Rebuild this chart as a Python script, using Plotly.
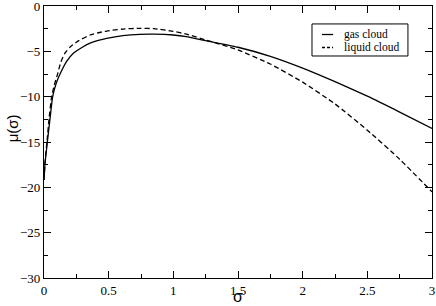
import plotly.graph_objects as go

sigma_gas = [0, 0.008, 0.026, 0.046, 0.067, 0.095, 0.124, 0.175, 0.227, 0.29, 0.356, 0.42, 0.485,
             0.61, 0.74, 0.85, 1.0, 1.1, 1.25, 1.3, 1.5, 1.75, 2.0, 2.25, 2.5, 2.75, 3.0]
mu_gas = [-19.2, -17.4, -15.0, -12.5, -10.0, -8.5, -7.5, -6.1, -5.2, -4.6, -4.1, -3.8, -3.57,
          -3.27, -3.12, -3.1, -3.2, -3.38, -3.82, -3.96, -4.55, -5.55, -6.85, -8.35, -9.95, -11.7, -13.5]

sigma_liq = [0, 0.008, 0.024, 0.04, 0.059, 0.08, 0.103, 0.13, 0.162, 0.2, 0.26, 0.356, 0.42, 0.485,
             0.61, 0.74, 0.85, 1.0, 1.1, 1.25, 1.3, 1.5, 1.75, 2.0, 2.25, 2.5, 2.75, 3.0]
mu_liq = [-19.2, -17.2, -14.8, -12.3, -10.0, -8.7, -7.6, -6.2, -5.2, -4.55, -3.9, -3.2, -2.95, -2.76,
          -2.54, -2.46, -2.5, -2.8, -3.1, -3.75, -3.95, -4.85, -6.4, -8.4, -10.8, -13.7, -16.9, -20.5]

series_names = ["gas cloud", "liquid cloud"]
series_dash = ["solid", "5px,3px"]

fig = go.Figure()
fig.add_trace(go.Scatter(x=sigma_gas, y=mu_gas, mode="lines", name=series_names[0], showlegend=False,
                         line=dict(color="black", width=1.3, dash=series_dash[0], shape="spline", smoothing=0.5)))
fig.add_trace(go.Scatter(x=sigma_liq, y=mu_liq, mode="lines", name=series_names[1], showlegend=False,
                         line=dict(color="black", width=1.3, dash=series_dash[1], shape="spline", smoothing=0.5)))

axis_common = dict(showgrid=False, zeroline=False, showline=True, linecolor="black", linewidth=1.2,
                   mirror="allticks", ticks="inside", ticklen=7, tickcolor="black", automargin=False,
                   ticklabeloverflow="allow",
                   tickfont=dict(family="Liberation Serif", size=13, color="black"))

fig.update_xaxes(range=[0, 3], dtick=0.5, tick0=0,
                 minor=dict(ticks="inside", ticklen=4, dtick=0.25, tickcolor="black"),
                 **axis_common)
fig.update_yaxes(range=[-30, 0], dtick=5, tick0=0,
                 minor=dict(ticks="inside", ticklen=4, dtick=2.5, tickcolor="black"),
                 **axis_common)

# axis titles
fig.add_annotation(text="σ", xref="paper", yref="paper", x=0.5, y=-0.0331, xanchor="center", yanchor="top",
                   borderpad=0, showarrow=False, font=dict(family="Liberation Sans", size=16, color="black"))
fig.add_annotation(text="μ(σ)", xref="paper", yref="paper", x=-0.082, y=0.551, xanchor="center", yanchor="middle",
                   textangle=-90, showarrow=False, font=dict(family="Liberation Sans", size=15, color="black"))

# legend box (custom, compact like the reference)
fig.add_shape(type="rect", xref="paper", yref="paper", x0=0.6907, x1=0.938, y0=0.8162, y1=0.934,
              line=dict(color="black", width=1), fillcolor="white", layer="above")
leg_y = [0.8952, 0.8474]
for name, dash, yy in zip(series_names, series_dash, leg_y):
    fig.add_shape(type="line", xref="paper", yref="paper", x0=0.7165, x1=0.745, y0=yy, y1=yy,
                  line=dict(color="black", width=1.3, dash="3px,2px" if dash != "solid" else "solid"),
                  layer="above")
    fig.add_annotation(text=name, xref="paper", yref="paper", x=0.7706, y=yy, xanchor="left", yanchor="middle",
                       borderpad=0, showarrow=False,
                       font=dict(family="Liberation Serif", size=11.5, color="black"))

fig.update_layout(
    width=436, height=306,
    margin=dict(l=44, r=4, t=6, b=28),
    plot_bgcolor="white", paper_bgcolor="white",
    showlegend=False,
)

fig.write_html("out.html", config={"displayModeBar": False},
               post_script="document.body.style.margin='0';")
